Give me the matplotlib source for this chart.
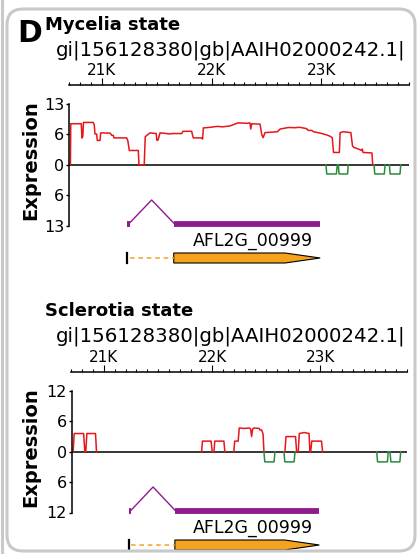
import numpy as np
import matplotlib.pyplot as plt
from matplotlib import patches
from matplotlib.lines import Line2D
from matplotlib.transforms import IdentityTransform
from matplotlib.ticker import MultipleLocator

plt.rcParams['font.family'] = ['DejaVu Sans']

# genomic window and ruler
x_range = (20700, 23800)
ruler_major = [21000, 22000, 23000]
ruler_labels = ['21K', '22K', '23K']
contig = 'gi|156128380|gb|AAIH02000242.1|'
gene_name = 'AFL2G_00999'

# gene model (bp)
exon1 = (21230, 21252)
exon2 = (21655, 22990)
arrow_taper = 22670

# mycelia: coverage on + strand (red) and - strand (green)
myc_red_x = [20713, 20716, 20812, 20818, 20826, 20832, 20920, 20930, 20937, 20952,
             20958, 20983, 20989, 21074, 21090, 21104, 21110, 21226, 21236, 21250,
             21332, 21338, 21386, 21395, 21420, 21439, 21495, 21502, 21512, 21530,
             21590, 21621, 21636, 21728, 21739, 21818, 21833, 21910, 21918, 21925,
             21990, 22050, 22100, 22168, 22241, 22320, 22350, 22357, 22366, 22442,
             22457, 22470, 22487, 22600, 22624, 22700, 22760, 22800, 22867, 22880,
             22913, 22930, 22990, 23050, 23080, 23100, 23112, 23165, 23172, 23200,
             23270, 23285, 23300, 23338, 23369, 23374, 23381, 23462, 23469]
myc_red_y = [0, 8.4, 8.4, 5.2, 5.6, 8.7, 8.7, 8.2, 6.1, 6.1,
             4.7, 4.7, 6.35, 6.3, 5.8, 5.8, 5.25, 5.25, 4.7, 2.6,
             2.6, 0, 0, 5.5, 6.0, 6.35, 6.2, 4.7, 4.8, 6.35,
             6.2, 6.1, 6.2, 6.2, 6.7, 6.7, 5.25, 5.25, 5.0, 7.45,
             7.6, 7.8, 7.7, 7.9, 8.6, 8.5, 8.6, 7.2, 8.4, 8.3,
             6.0, 5.3, 6.4, 6.6, 7.2, 7.55, 7.5, 7.6, 7.3, 6.9,
             6.9, 6.6, 6.3, 5.9, 5.6, 5.3, 2.2, 2.2, 6.4, 6.6,
             6.4, 3.5, 3.2, 2.9, 2.6, 2.9, 2.2, 2.1, 0]
myc_green_x = [23043, 23050, 23138, 23146, np.nan, 23155, 23162, 23240, 23246, np.nan,
               23481, 23488, 23575, 23582, np.nan, 23621, 23628, 23718, 23725]
myc_green_y = [0, -1.6, -1.6, 0, np.nan, 0, -1.6, -1.6, 0, np.nan,
               0, -1.6, -1.6, 0, np.nan, 0, -1.6, -1.6, 0]

# sclerotia
scl_red_x = [20715, 20725, 20812, 20823, 20832, 20842, 20922, 20931, np.nan,
             21902, 21910, 21990, 22000, 22016, 22024, 22108, 22117, np.nan,
             22200, 22208, 22240, 22250, 22300, 22345, 22356, 22364, 22374, 22385,
             22435, 22441, 22457, 22470, 22478, np.nan,
             22672, 22682, 22770, 22780, 22795, 22805, 22850, 22895, 22903,
             22910, 22920, 23010, 23020]
scl_red_y = [0, 3.6, 3.6, 0, 0, 3.6, 3.6, 0, np.nan,
             0, 2.1, 2.1, 0, 0, 2.1, 2.1, 0, np.nan,
             0, 2.1, 2.1, 4.7, 4.6, 4.7, 4.4, 3.0, 4.5, 4.7,
             4.6, 4.3, 4.3, 3.5, 0, np.nan,
             0, 3.0, 3.0, 0, 0, 3.6, 3.8, 3.6, 0,
             0, 2.1, 2.1, 0]
scl_green_x = [22478, 22486, 22572, 22580, np.nan, 22663, 22671, 22757, 22765, np.nan,
               23520, 23528, 23619, 23627, np.nan, 23643, 23651, 23734, 23742]
scl_green_y = [0, -2.0, -2.0, 0, np.nan, 0, -2.0, -2.0, 0, np.nan,
               0, -2.0, -2.0, 0, np.nan, 0, -2.0, -2.0, 0]

RED = '#e8161b'
GREEN = '#2b8a3e'
PURPLE = '#8e1b8e'
ORANGE = '#f5a31c'
GRAY = '#c9c9c9'

W, H = 417, 554
fig = plt.figure(figsize=(W / 100, H / 100), dpi=100)


def fig_box(x0, y0, x1, y1):
    # pixel box (top-left origin) -> figure fraction rect
    return [x0 / W, 1 - y1 / H, (x1 - x0) / W, (y1 - y0) / H]


def ftext(x, y, s, **kw):
    return fig.text(x / W, 1 - y / H, s, **kw)


def draw_panel(title, top, left, right, ymax, power, red_x, red_y, green_x, green_y):
    ftext(45, top + 29.5, title, fontsize=13, fontweight='bold', va='baseline')
    ftext(56, top + 55, contig, fontsize=14.2, va='baseline')

    # ruler
    ry = top + 86
    rax = fig.add_axes(fig_box(left, ry - 1, right, ry))
    rax.patch.set_visible(False)
    for s in ['bottom', 'left', 'right']:
        rax.spines[s].set_visible(False)
    rax.spines['top'].set_linewidth(1.1)
    rax.set_xlim(x_range)
    rax.set_yticks([])
    rax.xaxis.tick_top()
    rax.set_xticks(ruler_major)
    rax.set_xticklabels(ruler_labels)
    rax.xaxis.set_minor_locator(MultipleLocator(100))
    rax.tick_params(axis='x', which='major', length=5, width=0.8, pad=0.3, labelsize=11)
    rax.tick_params(axis='x', which='minor', length=2.5, width=0.8)

    # expression track
    ax = fig.add_axes(fig_box(left, top + 104, right, top + 225.5))
    ax.patch.set_visible(False)
    if power != 1:
        ax.set_yscale('function', functions=(lambda v: np.sign(v) * np.abs(v) ** power,
                                             lambda v: np.sign(v) * np.abs(v) ** (1 / power)))
    ax.set_xlim(x_range)
    ax.set_ylim(-ymax, ymax)
    ax.axhline(0, color='black', lw=1.1, zorder=1)
    ax.plot(red_x, red_y, color=RED, lw=1.1, zorder=2)
    ax.plot(green_x, green_y, color=GREEN, lw=1.1, zorder=2)
    for s in ['top', 'right', 'bottom']:
        ax.spines[s].set_visible(False)
    ax.spines['left'].set_linewidth(1.1)
    ax.set_xticks([])
    mid = ymax // 2
    ax.set_yticks([-ymax, -mid, 0, mid, ymax])
    ax.set_yticklabels([str(ymax), str(mid), '0', str(mid), str(ymax)])
    ax.tick_params(axis='y', length=2.5, width=1, pad=1, labelsize=11.5)

    # transcript structure (purple)
    tr = ax.get_xaxis_transform()
    ax.plot(exon1, [0.01, 0.01], color=PURPLE, lw=4.2, solid_capstyle='butt',
            transform=tr, clip_on=False)
    ax.plot(exon2, [0.01, 0.01], color=PURPLE, lw=4.2, solid_capstyle='butt',
            transform=tr, clip_on=False)
    ax.plot([exon1[1], (exon1[1] + exon2[0]) / 2, exon2[0]], [0.02, 0.21, 0.02],
            color=PURPLE, lw=1, transform=tr, clip_on=False)

    ftext(31, top + 160, 'Expression', rotation=90, ha='center', va='center',
          fontsize=14, fontweight='bold')

    # gene annotation (orange)
    gax = fig.add_axes(fig_box(left, top + 228, right, top + 268))
    gax.set_xlim(x_range)
    gax.set_ylim(0, 4)
    gax.axis('off')
    gax.plot([exon1[0], exon1[0]], [0.5, 1.5], color='black', lw=1.6)
    gax.plot([exon1[1], exon2[0]], [1, 1], color=ORANGE, lw=1.1, ls=(0, (3, 2.5)))
    gax.add_patch(patches.Polygon([[exon2[0], 0.5], [arrow_taper, 0.5], [exon2[1], 1.0],
                                   [arrow_taper, 1.5], [exon2[0], 1.5]],
                                  closed=True, fc=ORANGE, ec='black', lw=0.8))
    gax.text(22380, 2.2, gene_name, ha='center', va='baseline', fontsize=12.5)


draw_panel('Mycelia state', 0, 69, 409, 13, 0.9,
           myc_red_x, myc_red_y, myc_green_x, myc_green_y)
draw_panel('Sclerotia state', 287, 71.5, 407, 12, 1,
           scl_red_x, scl_red_y, scl_green_x, scl_green_y)

ftext(17, 41.7, 'D', fontsize=21.5, fontweight='bold', va='baseline')

# panel frame
fig.add_artist(patches.FancyBboxPatch((7, H - 551), 408, 542,
                                      boxstyle='round,pad=0,rounding_size=16',
                                      transform=IdentityTransform(), fill=False,
                                      ec=GRAY, lw=2.2))
fig.add_artist(Line2D([1.5, 1.5], [0, H], transform=IdentityTransform(), color=GRAY, lw=2.2))

plt.savefig('out.png', dpi=100)
